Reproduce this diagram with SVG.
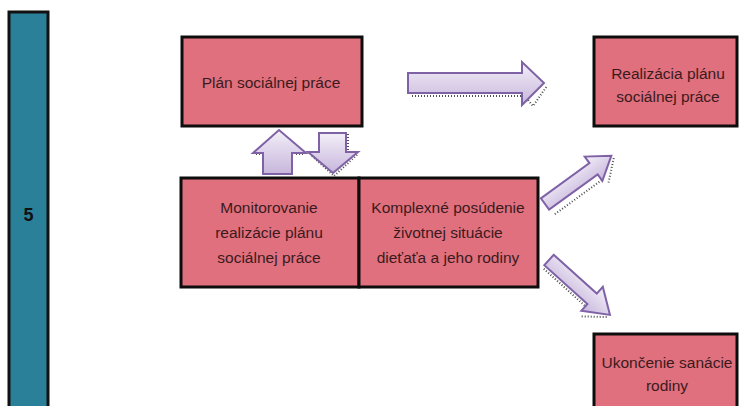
<svg xmlns="http://www.w3.org/2000/svg" width="739" height="406" viewBox="0 0 739 406">
  <defs>
    <linearGradient id="arrowFill" x1="0" y1="0" x2="0" y2="1">
      <stop offset="0" stop-color="#f3eff8"/>
      <stop offset="1" stop-color="#c7b6dc"/>
    </linearGradient>
    <style>
      .box { fill: #e0707d; stroke: #0d0d0d; stroke-width: 3; }
      .bar { fill: #2a8098; stroke: #111; stroke-width: 3; }
      .lbl { font-family: "Liberation Sans", Arial, sans-serif; font-size: 15.5px; fill: #3b1a1e; text-anchor: middle; }
      .num { font-family: "Liberation Sans", Arial, sans-serif; font-size: 18px; font-weight: bold; fill: #111; text-anchor: middle; }
      .arrow { fill: url(#arrowFill); stroke: #7f62a6; stroke-width: 2; stroke-linejoin: miter; }
      .shadow { fill: none; stroke: #222; stroke-width: 2; stroke-dasharray: 1 2; opacity: 0.8; }
    </style>
  </defs>

  <!-- stage number bar -->
  <g id="stage">
    <rect class="bar" x="9" y="12" width="39" height="400"/>
    <text class="num" x="28.5" y="221">5</text>
  </g>

  <!-- process boxes -->
  <g id="plan">
    <rect class="box" x="182" y="37" width="180" height="89"/>
    <text class="lbl" x="271" y="88">Plán sociálnej práce</text>
  </g>

  <g id="realizacia">
    <rect class="box" x="594" y="37" width="143" height="89"/>
    <text class="lbl" x="668" y="79">Realizácia plánu</text>
    <text class="lbl" x="668" y="102">sociálnej práce</text>
  </g>

  <g id="monitorovanie">
    <rect class="box" x="181" y="178" width="178" height="109"/>
    <text class="lbl" x="269" y="213">Monitorovanie</text>
    <text class="lbl" x="269" y="238">realizácie plánu</text>
    <text class="lbl" x="269" y="263">sociálnej práce</text>
  </g>

  <g id="posudenie">
    <rect class="box" x="359" y="178" width="179" height="109"/>
    <text class="lbl" x="448" y="213">Komplexné posúdenie</text>
    <text class="lbl" x="448" y="238">životnej situácie</text>
    <text class="lbl" x="448" y="263">dieťaťa a jeho rodiny</text>
  </g>

  <g id="ukoncenie">
    <rect class="box" x="594" y="334" width="143" height="80"/>
    <text class="lbl" x="667" y="368">Ukončenie sanácie</text>
    <text class="lbl" x="667" y="391">rodiny</text>
  </g>

  <!-- block arrows between stages -->
  <g id="connectors">
    <!-- plan -> realizacia -->
    <path class="shadow" d="M412 96 H525 M528 100 L533 106 L547 86"/>
    <path class="arrow" d="M408 73 H522 V62 L544 83 L522 105 V93 H408 Z"/>

    <!-- monitorovanie -> plan -->
    <path class="shadow" d="M264 174 H292 M256 154 H262 M296 154 H305"/>
    <path class="arrow" d="M263 174 V153 H253 L279 130 L306 153 H292 V174 Z"/>

    <!-- plan -> monitorovanie -->
    <path class="shadow" d="M348 134 V152 M312 156 L334 176 L358 154"/>
    <path class="arrow" d="M319 133 H346 V152 H358 L333 173 L308 152 H319 Z"/>

    <!-- posudenie -> realizacia -->
    <g transform="translate(545 204) rotate(-36)">
      <path class="shadow" d="M2 14 H60 M64 20 L84 2"/>
      <path class="arrow" d="M0 -7 H60 V-15 L82 0 L60 15 V7 H0 Z"/>
    </g>

    <!-- posudenie -> ukoncenie -->
    <g transform="translate(549 260) rotate(42)">
      <path class="shadow" d="M2 10 H58 M62 20 L82 3"/>
      <path class="arrow" d="M0 -7 H58 V-16 L82 0 L58 16 V7 H0 Z"/>
    </g>
  </g>
</svg>
